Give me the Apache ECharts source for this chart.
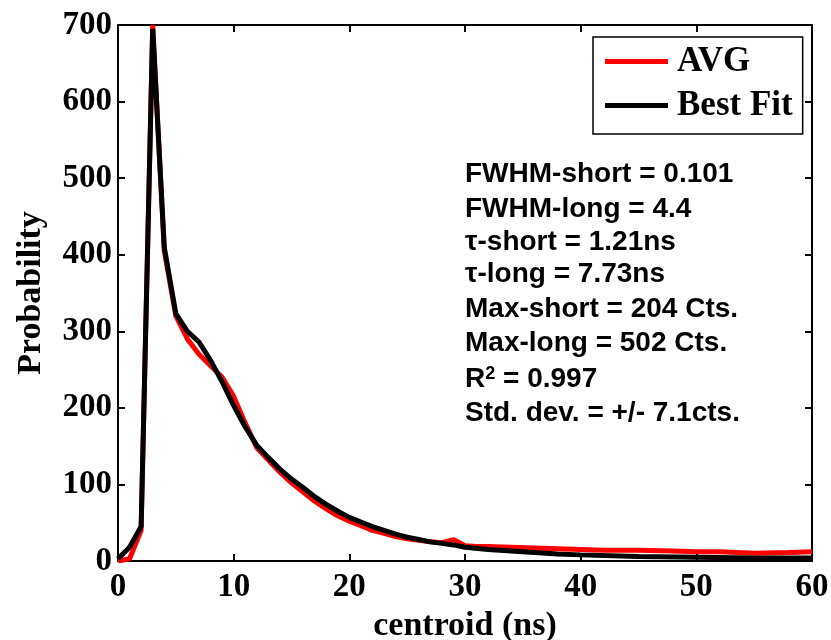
<!DOCTYPE html>
<html><head><meta charset="utf-8">
<script src="https://cdn.jsdelivr.net/npm/echarts@6/dist/echarts.min.js"></script>
<style>html,body{margin:0;padding:0;background:#fff}#c{width:831px;height:640px}</style>
</head><body><div id="c"></div>
<script>
// centroid (ns)
const avgX = [0,1,2,3,4,5,6,7,8,9,10,11,12,13,14,15,16,17,18,19,20,21,22,23,24,25,26,27,28,29,30,31,32,34,36,38,40,42,45,48,50,52,55,58,60];
const avgY = [0,3,40,700,405,320,290,270,255,240,215,180,148,132,116,102,90,78,68,59,52,46,40,36,32,29,27,25,24,28,20,19,19,18,17,16,15,14,14,13,12,12,10,11,12];
const fitX = [0,1,2,3,4,5,6,7,8,9,10,11,12,13,14,15,16,17,18,19,20,21,22,23,24,25,26,27,28,29,30,32,34,36,38,40,45,50,55,60];
const fitY = [3,18,45,695,410,323,300,286,262,234,203,175,151,135,120,107,96,84,74,65,57,51,45,40,35,31,28,25,23,21,18,15,13,11,9,8,6,5,4,4];
const xTicks = [0,10,20,30,40,50,60];
const yTicks = [0,100,200,300,400,500,600,700];
const notes = [
  'FWHM-short = 0.101',
  'FWHM-long = 4.4',
  'τ-short = 1.21ns',
  'τ-long = 7.73ns',
  'Max-short = 204 Cts.',
  'Max-long = 502 Cts.',
  'R2',
  'Std. dev. = +/- 7.1cts.'
];
const noteCenters = [174, 209, 242, 274, 309, 343, 379, 413];

const serif = '"Liberation Serif","Times New Roman",serif';
const sans = '"Liberation Sans",Arial,sans-serif';
const chart = echarts.init(document.getElementById('c'), null, {renderer:'canvas'});
const labelStyle = {fontFamily: serif, fontWeight: 'bold', fontSize: 33, color: '#000'};
const xBase = {type:'value', min:xTicks[0], max:xTicks[xTicks.length-1], interval:10,
  axisLine:{show:true, onZero:false, lineStyle:{color:'#000', width:2}},
  axisTick:{show:true, inside:true, length:7, lineStyle:{color:'#000', width:2}},
  splitLine:{show:false}};
const yBase = {type:'value', min:yTicks[0], max:yTicks[yTicks.length-1], interval:100,
  axisLine:{show:true, onZero:false, lineStyle:{color:'#000', width:2}},
  axisTick:{show:true, inside:true, length:7, lineStyle:{color:'#000', width:2}},
  splitLine:{show:false}};

const FS = 28;
const texts = notes.map((t, i) => {
  const top = noteCenters[i] - FS / 2;
  if (t === 'R2') {
    return {type:'text', left:465, top: top, style:{
      text:'{b|R}{s|2}{b| = 0.997}',
      rich:{b:{fontFamily:sans, fontWeight:'bold', fontSize:FS, fill:'#000', verticalAlign:'bottom'},
            s:{fontFamily:sans, fontWeight:'bold', fontSize:18, fill:'#000', verticalAlign:'top'}},
      fill:'#000'}};
  }
  return {type:'text', left:465, top: top, style:{text:t, fontFamily:sans, fontWeight:'bold', fontSize:FS, fill:'#000'}};
});

chart.setOption({
  animation:false,
  backgroundColor:'#fff',
  grid:{left:118, right:19, top:25, bottom:79, containLabel:false, outerBoundsMode:'none'},
  xAxis:[
    Object.assign({}, xBase, {position:'bottom', name:'centroid (ns)', nameLocation:'middle', nameGap:45,
      nameTextStyle:{fontFamily:serif, fontWeight:'bold', fontSize:34, color:'#000', verticalAlign:'top'},
      axisLabel:Object.assign({margin:10}, labelStyle)}),
    Object.assign({}, xBase, {position:'top', axisLabel:{show:false}})
  ],
  yAxis:[
    Object.assign({}, yBase, {position:'left', name:'Probability', nameLocation:'middle', nameGap:70,
      nameTextStyle:{fontFamily:serif, fontWeight:'bold', fontSize:34, color:'#000'},
      axisLabel:Object.assign({margin:6}, labelStyle)}),
    Object.assign({}, yBase, {position:'right', axisLabel:{show:false}})
  ],
  legend:{
    orient:'vertical', left:593, top:37,
    backgroundColor:'#fff', borderColor:'#000', borderWidth:1.5, borderRadius:0,
    padding:[7,10,11,12], itemGap:9, itemWidth:63, itemHeight:5, icon:'rect',
    textStyle:{fontFamily:serif, fontWeight:'bold', fontSize:35, color:'#000', padding:[0,0,0,4]},
    data:['AVG','Best Fit']
  },
  graphic: texts,
  series:[
    {name:'AVG', type:'line', data: avgX.map((x,i)=>[x, avgY[i]]), showSymbol:false, symbol:'none',
     lineStyle:{color:'#ff0000', width:5}, itemStyle:{color:'#ff0000'}, z:2, clip:true},
    {name:'Best Fit', type:'line', data: fitX.map((x,i)=>[x, fitY[i]]), showSymbol:false, symbol:'none',
     lineStyle:{color:'#000', width:5}, itemStyle:{color:'#000'}, z:3, clip:true}
  ]
});
</script></body></html>
